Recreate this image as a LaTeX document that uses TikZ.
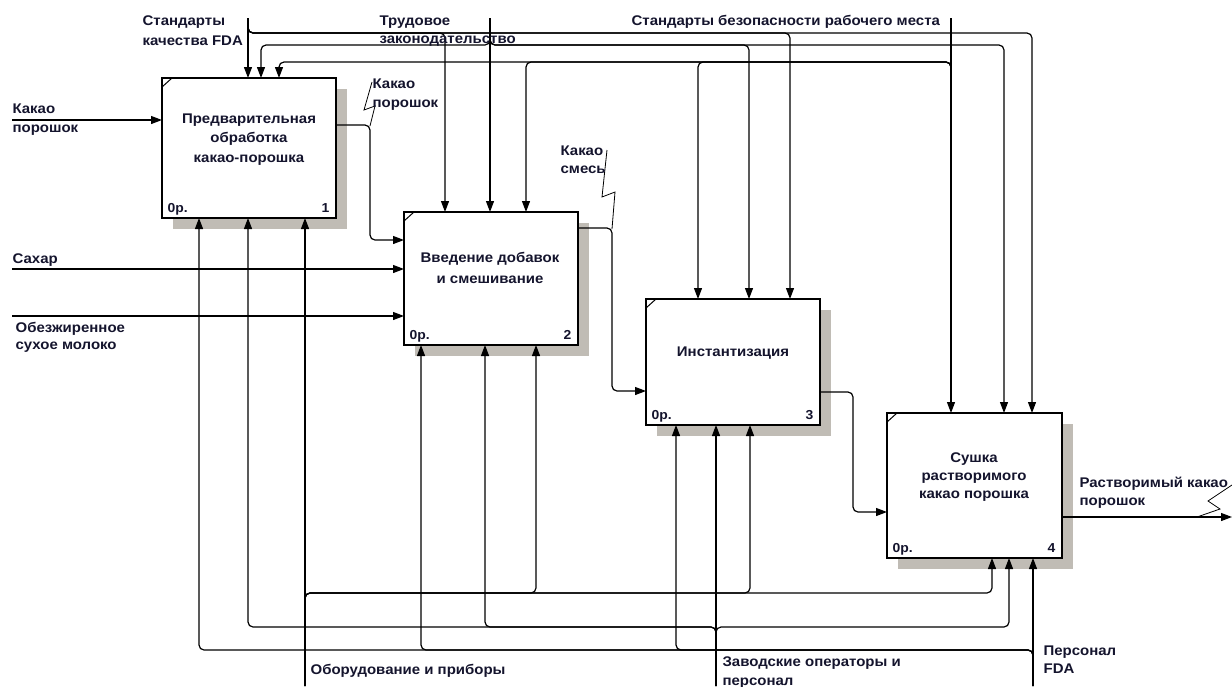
\documentclass[tikz,border=0pt]{standalone}
\usepackage{fontspec}
\setmainfont{Liberation Sans}[FakeStretch=1.07]
\usetikzlibrary{arrows.meta}
\definecolor{shadowc}{RGB}{192,188,181}
\definecolor{txt}{RGB}{20,20,45}
\newcommand\lblfont{\bfseries\fontsize{14}{17}\selectfont}
\newcommand\idxfont{\bfseries\fontsize{13}{15}\selectfont}
\newcommand\actbox[6]{%
  \fill[shadowc] (#2+11,#3+11) rectangle (#4+11,#5+11);
  \node[act, minimum width=#4-#2, minimum height=#5-#3] (#1) at (#2,#3) {};
  \draw[line width=1pt] (#2,#3+9) -- (#2+10,#3);
  \node[idx, anchor=base west] (#1o) at (#2+5,#5-6) {0р.};
  \node[idx, anchor=base east] (#1n) at (#4-6,#5-6) {#6};
}
\begin{document}
\begin{tikzpicture}[x=1pt,y=-1pt, line width=1.2pt,
  conn/.style={rounded corners=5pt},
  arr/.style={conn,-{Triangle[length=11pt,width=8pt]}},
  sq/.style={line width=0.8pt},
  lbl/.style={font=\lblfont, text=txt, inner sep=0pt, anchor=base west},
  btxt/.style={font=\lblfont, text=txt, inner sep=0pt, anchor=base},
  idx/.style={font=\idxfont, text=txt, inner sep=0pt},
  act/.style={draw, line width=2.8pt, fill=white, anchor=north west, inner sep=0pt, outer sep=0pt},
]
\useasboundingbox (0,0) rectangle (1232,686);

% activity boxes
\actbox{b1}{162}{78}{336}{218}{1}
\actbox{b2}{404}{212}{578}{345}{2}
\actbox{b3}{646}{299}{820}{425}{3}
\actbox{b4}{887}{413}{1062}{558}{4}

% box texts
\node[btxt] (t1a) at (249,123) {Предварительная};
\node[btxt] (t1b) at (249,142) {обработка};
\node[btxt] (t1c) at (249,162) {какао-порошка};
\node[btxt] (t2a) at (490,262) {Введение добавок};
\node[btxt] (t2b) at (490,283) {и смешивание};
\node[btxt] (t3a) at (733,356) {Инстантизация};
\node[btxt] (t4a) at (974,462) {Сушка};
\node[btxt] (t4b) at (974,480) {растворимого};
\node[btxt] (t4c) at (974,498) {какао порошка};

% source / sink coordinates
\coordinate (in1) at (12,120);
\coordinate (in2) at (12,269);
\coordinate (in3) at (12,316);
\coordinate (fda) at (248,18);
\coordinate (trud) at (490,18);
\coordinate (bez) at (951,18);
\coordinate (obor) at (305,686);
\coordinate (zav) at (716,686);
\coordinate (pfda) at (1033,686);
\coordinate (out) at (1232,517);

% inputs
\draw[arr] (in1) -- (in1 -| b1.west);
\draw[arr] (in2) -- (in2 -| b2.west);
\draw[arr] (in3) -- (in3 -| b2.west);

% box to box
\draw[arr] (b1.east |- 0,125) -- (370,125) -- (370,240) -- (b2.west |- 0,240);
\draw[arr] (b2.east |- 0,228) -- (612,228) -- (612,391) -- (b3.west |- 0,391);
\draw[arr] (b3.east |- 0,392) -- (853,392) -- (853,512) -- (b4.west |- 0,512);
\draw[arr] (b4.east |- out) -- (out);

% controls: FDA standards
\draw[arr] (fda) -- (fda |- b1.north);
\draw[arr] (fda) -- (248,33) -- (445,33) -- (445,0 |- b2.north);
\draw[arr] (fda) -- (248,33) -- (790,33) -- (790,0 |- b3.north);
\draw[arr] (fda) -- (248,33) -- (1032,33) -- (1032,0 |- b4.north);
% controls: labour law
\draw[arr] (trud) -- (trud |- b2.north);
\draw[arr] (trud) -- (490,45) -- (261,45) -- (261,0 |- b1.north);
\draw[arr] (trud) -- (490,45) -- (749,45) -- (749,0 |- b3.north);
\draw[arr] (trud) -- (490,45) -- (1004,45) -- (1004,0 |- b4.north);
% controls: workplace safety
\draw[arr] (bez) -- (bez |- b4.north);
\draw[arr] (951,72) -- (951,62) -- (279,62) -- (279,0 |- b1.north);
\draw[arr] (951,72) -- (951,62) -- (526,62) -- (526,0 |- b2.north);
\draw[arr] (951,72) -- (951,62) -- (698,62) -- (698,0 |- b3.north);

% mechanisms: equipment
\draw[arr] (obor) -- (obor |- b1.south);
\draw[arr] (obor) -- (305,593) -- (536,593) -- (536,0 |- b2.south);
\draw[arr] (obor) -- (305,593) -- (750,593) -- (750,0 |- b3.south);
\draw[arr] (obor) -- (305,593) -- (992,593) -- (992,0 |- b4.south);
% mechanisms: operators
\draw[arr] (zav) -- (zav |- b3.south);
\draw[arr] (zav) -- (716,627) -- (248,627) -- (248,0 |- b1.south);
\draw[arr] (zav) -- (716,627) -- (485,627) -- (485,0 |- b2.south);
\draw[arr] (zav) -- (716,627) -- (1009,627) -- (1009,0 |- b4.south);
% mechanisms: FDA personnel
\draw[arr] (pfda) -- (pfda |- b4.south);
\draw[arr] (pfda) -- (1033,650) -- (199,650) -- (199,0 |- b1.south);
\draw[arr] (pfda) -- (1033,650) -- (421,650) -- (421,0 |- b2.south);
\draw[arr] (pfda) -- (1033,650) -- (676,650) -- (676,0 |- b3.south);

% squiggles
\draw[sq] (372,82) -- (364,110) -- (375,106) -- (370,126);
\draw[sq] (607,150) -- (602,197) -- (615,192) -- (612,229);
\draw[sq] (1232,485) -- (1208,501) -- (1220,509) -- (1197,517);

% labels
\node[lbl] (l1a) at (142,25) {Стандарты};
\node[lbl] (l1b) at (142,45) {качества FDA};
\node[lbl] (l2a) at (379,25) {Трудовое};
\node[lbl] (l2b) at (379,43) {законодательство};
\node[lbl] (l3) at (631,25) {Стандарты безопасности рабочего места};
\node[lbl] (l4a) at (12,113) {Какао};
\node[lbl] (l4b) at (12,132) {порошок};
\node[lbl] (l5a) at (372,88) {Какао};
\node[lbl] (l5b) at (372,107) {порошок};
\node[lbl] (l6a) at (560,155) {Какао};
\node[lbl] (l6b) at (560,173) {смесь};
\node[lbl] (l7) at (12,263) {Сахар};
\node[lbl] (l8a) at (15,332) {Обезжиренное};
\node[lbl] (l8b) at (15,349) {сухое молоко};
\node[lbl] (l9a) at (1079,487) {Растворимый какао};
\node[lbl] (l9b) at (1079,505) {порошок};
\node[lbl] (l10) at (310,674) {Оборудование и приборы};
\node[lbl] (l11a) at (722,666) {Заводские операторы и};
\node[lbl] (l11b) at (722,685) {персонал};
\node[lbl] (l12a) at (1043,655) {Персонал};
\node[lbl] (l12b) at (1043,673) {FDA};
\end{tikzpicture}
\end{document}
